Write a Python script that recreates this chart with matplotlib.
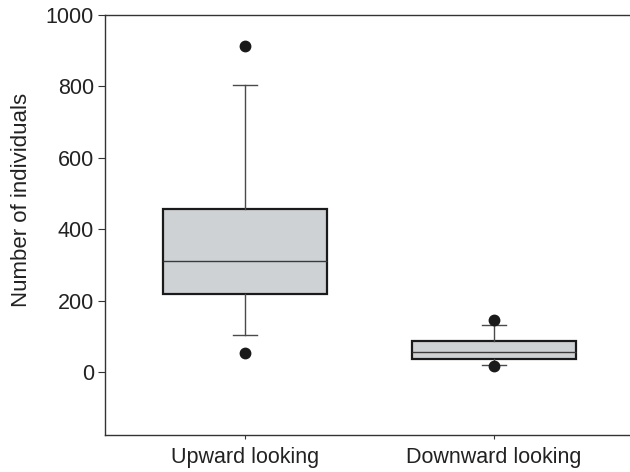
import matplotlib
matplotlib.use('agg')
import matplotlib.pyplot as plt

# box statistics
groups = ['Upward looking', 'Downward looking']
q1 = [218, 37]
medians = [311, 57]
q3 = [456, 87]
whisker_lo = [105, 19]
whisker_hi = [805, 131]
outliers = [[53, 912], [18, 147]]
yticks = [0, 200, 400, 600, 800, 1000]

plt.rcParams['font.family'] = ['Liberation Sans', 'DejaVu Sans']

stats = []
for i in range(len(groups)):
    stats.append({'label': groups[i], 'q1': q1[i], 'med': medians[i], 'q3': q3[i],
                  'whislo': whisker_lo[i], 'whishi': whisker_hi[i], 'fliers': outliers[i]})

fig = plt.figure(figsize=(6.3, 4.72), dpi=100)
ax = fig.add_axes([105/630, 1 - 435/472, 1 - 105/630, 420/472])

ax.bxp(stats, positions=[1, 2], widths=0.66, patch_artist=True, showfliers=True,
       boxprops=dict(facecolor='#cfd2d5', edgecolor='#1a1a1a', linewidth=1.6),
       medianprops=dict(color='#3a3a3a', linewidth=1.0),
       whiskerprops=dict(color='#4a4a4a', linewidth=1.0),
       capprops=dict(color='#4a4a4a', linewidth=1.0),
       capwidths=0.095,
       flierprops=dict(marker='o', markerfacecolor='#1a1a1a', markeredgecolor='#1a1a1a',
                       markersize=7.5))

ax.set_xlim(0.438, 2.546)
ax.set_ylim(-176, 1000)
ax.set_yticks(yticks)
ax.set_xticks([1, 2])
ax.set_xticklabels(groups)
ax.set_ylabel('Number of individuals', fontsize=16, color='#222222')
ax.yaxis.set_label_coords(-0.139, 0.5595)

ax.spines['right'].set_visible(False)
for s in ['left', 'top', 'bottom']:
    ax.spines[s].set_color('#333333')
    ax.spines[s].set_linewidth(1.0)

ax.tick_params(axis='y', length=5, width=0.8, color='#333333', labelsize=15.5, labelcolor='#222222', pad=3)
ax.tick_params(axis='x', length=3, width=0.8, color='#333333', labelsize=15.5, labelcolor='#222222', pad=6)

fig.savefig('out.png', dpi=100)
